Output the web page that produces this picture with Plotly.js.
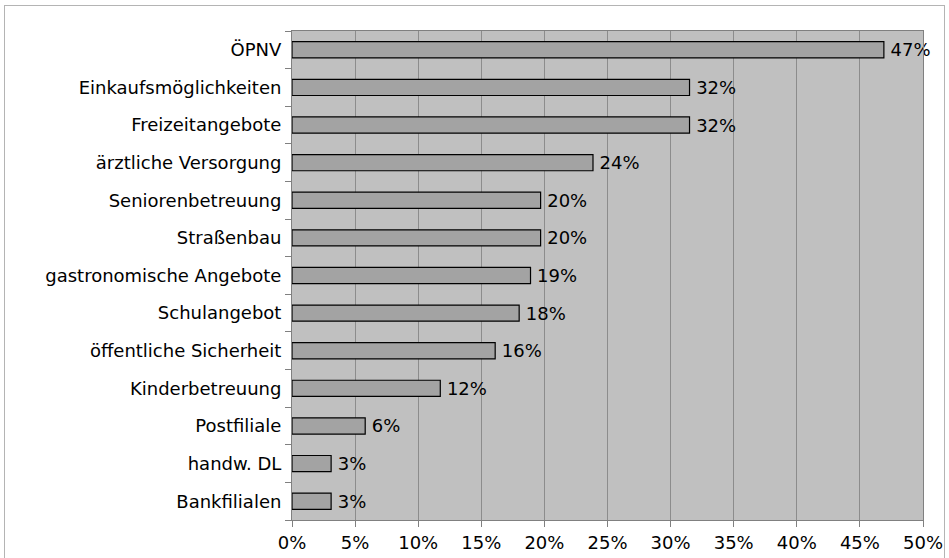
<!DOCTYPE html>
<html>
<head>
<meta charset="utf-8">
<script src="https://cdn.plot.ly/plotly-3.0.1.min.js"></script>
<style>
  html, body { margin: 0; padding: 0; background: #ffffff; }
  #wrap { position: relative; width: 949px; height: 558px; overflow: hidden; }
  #chart { width: 949px; height: 558px; }
  #frame { position: absolute; left: 4px; top: 5px; width: 941px; height: 600px;
           border: 1px solid #b4b4b4; pointer-events: none; box-sizing: border-box; }
</style>
</head>
<body>
<div id="wrap">
  <div id="chart"></div>
  <div id="frame"></div>
</div>
<script>
// Categories (top to bottom as shown)
const categories = [
  "ÖPNV",
  "Einkaufsmöglichkeiten",
  "Freizeitangebote",
  "ärztliche Versorgung",
  "Seniorenbetreuung",
  "Straßenbau",
  "gastronomische Angebote",
  "Schulangebot",
  "öffentliche Sicherheit",
  "Kinderbetreuung",
  "Postfiliale",
  "handw. DL",
  "Bankfilialen"
];
// Share of respondents (fraction)
const shares = [0.469, 0.315, 0.315, 0.2385, 0.197, 0.197, 0.189, 0.180, 0.161, 0.1175, 0.058, 0.031, 0.031];
// X axis ticks
const xTickVals = [0, 0.05, 0.10, 0.15, 0.20, 0.25, 0.30, 0.35, 0.40, 0.45, 0.50];
const xTickText = ["0%", "5%", "10%", "15%", "20%", "25%", "30%", "35%", "40%", "45%", "50%"];

const FONT = "DejaVu Sans, Liberation Sans, Arial, sans-serif";
const FS = 18;

const trace = {
  type: "bar",
  orientation: "h",
  y: categories,
  x: shares,
  marker: { color: "#a3a3a3", line: { color: "#000000", width: 1.2 } },
  texttemplate: "\u2009%{x:.0%}",
  textposition: "outside",
  constraintext: "none",
  cliponaxis: false,
  textfont: { family: FONT, size: FS, color: "#000000" },
  hoverinfo: "skip"
};

const layout = {
  width: 949,
  height: 558,
  margin: { l: 292, r: 26, t: 31, b: 38, pad: 0 },
  paper_bgcolor: "#ffffff",
  plot_bgcolor: "#c0c0c0",
  bargap: 0.57,
  showlegend: false,
  font: { family: FONT, size: FS, color: "#000000" },
  xaxis: {
    range: [0, 0.5],
    tickvals: xTickVals,
    ticktext: xTickText,
    showgrid: true,
    gridcolor: "#8c8c8c",
    gridwidth: 1,
    zeroline: false,
    showline: true,
    linecolor: "#808080",
    linewidth: 1,
    mirror: true,
    ticks: "outside",
    ticklen: 6,
    tickcolor: "#808080",
    tickfont: { family: FONT, size: FS, color: "#000000" },
    fixedrange: true
  },
  yaxis: {
    type: "category",
    categoryorder: "array",
    categoryarray: categories.slice().reverse(),
    showgrid: false,
    zeroline: false,
    showline: true,
    linecolor: "#808080",
    linewidth: 1,
    mirror: true,
    ticks: "outside",
    tickson: "boundaries",
    ticklen: 6,
    tickcolor: "#808080",
    ticklabelstandoff: 6,
    tickfont: { family: FONT, size: FS, color: "#000000" },
    fixedrange: true
  }
};

Plotly.newPlot("chart", [trace], layout, { staticPlot: true, displayModeBar: false });
</script>
</body>
</html>
